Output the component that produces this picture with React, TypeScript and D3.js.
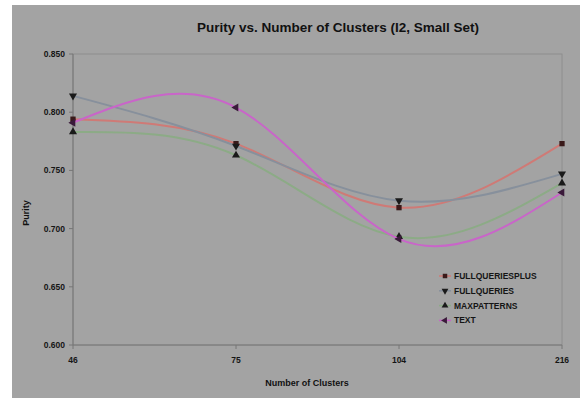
import React from "react";
import * as d3 from "d3";

const categories = ["46", "75", "104", "216"];
const seriesNames = ["FULLQUERIESPLUS", "FULLQUERIES", "MAXPATTERNS", "TEXT"];
const fullQueriesPlus = [0.794, 0.773, 0.718, 0.773];
const fullQueries = [0.814, 0.771, 0.724, 0.747];
const maxPatterns = [0.783, 0.763, 0.693, 0.739];
const textSeries = [0.791, 0.804, 0.691, 0.731];
const yTicks = [0.6, 0.65, 0.7, 0.75, 0.8, 0.85];

const W = 582;
const H = 398;
const left = 73, right = 562, top = 54, bottom = 345;

const styles = [
  { color: "#cf7a76", marker: d3.symbolSquare, rot: 0, mcolor: "#3a1a1a" },
  { color: "#87909c", marker: d3.symbolTriangle, rot: 180, mcolor: "#1a1a1a" },
  { color: "#8cab86", marker: d3.symbolTriangle, rot: 0, mcolor: "#1a1a1a" },
  { color: "#c965c9", marker: d3.symbolTriangle, rot: -90, mcolor: "#3a1a3a" },
];

export default function App() {
  const data = [fullQueriesPlus, fullQueries, maxPatterns, textSeries];
  const x = d3.scalePoint<string>().domain(categories).range([left, right]);
  const y = d3.scaleLinear().domain([0.6, 0.85]).range([bottom, top]);
  const line = d3
    .line<number>()
    .x((_, i) => x(categories[i]) as number)
    .y((v) => y(v))
    .curve(d3.curveNatural);
  const font = "'Liberation Sans', Arial, sans-serif";

  return (
    <svg
      width={W}
      height={H}
      style={{ position: "absolute", left: 0, top: 0 }}
      fontFamily={font}
    >
      <rect x={0} y={0} width={W} height={H} fill="#ffffff" />
      <rect x={12} y={5} width={568} height={H - 5} fill="#a3a3a3" />
      <rect x={left} y={top} width={right - left} height={bottom - top} fill="#a3a3a3" stroke="#8e8e8e" strokeWidth={1} />
      <text x={338} y={32} textAnchor="middle" fontSize={13.5} fontWeight="bold" fill="#111">
        Purity vs. Number of Clusters (I2, Small Set)
      </text>
      {/* y axis */}
      <line x1={left} x2={left} y1={top} y2={bottom} stroke="#777" />
      {yTicks.map((t) => (
        <g key={t}>
          <line x1={left - 4} x2={left} y1={y(t)} y2={y(t)} stroke="#777" />
          <text x={left - 8} y={y(t) + 3} textAnchor="end" fontSize={8.5} fontWeight="bold" fill="#151515">
            {t.toFixed(3)}
          </text>
        </g>
      ))}
      {/* x axis */}
      <line x1={left} x2={right} y1={bottom} y2={bottom} stroke="#777" />
      {categories.map((c) => (
        <g key={c}>
          <line x1={x(c)} x2={x(c)} y1={bottom} y2={bottom + 4} stroke="#777" />
          <text x={x(c)} y={bottom + 18} textAnchor="middle" fontSize={8.5} fontWeight="bold" fill="#151515">
            {c}
          </text>
        </g>
      ))}
      <text x={307} y={386} textAnchor="middle" fontSize={9} fontWeight="bold" fill="#111">
        Number of Clusters
      </text>
      <text
        transform={`translate(29,213) rotate(-90)`}
        textAnchor="middle"
        fontSize={9}
        fontWeight="bold"
        fill="#111"
      >
        Purity
      </text>
      {/* series */}
      {data.map((vals, si) => (
        <g key={seriesNames[si]}>
          <path d={line(vals) as string} fill="none" stroke={styles[si].color} strokeWidth={2} />
          {vals.map((v, i) => (
            <path
              key={i}
              d={d3.symbol().type(styles[si].marker).size(28)() as string}
              transform={`translate(${x(categories[i])},${y(v)}) rotate(${styles[si].rot})`}
              fill={styles[si].mcolor}
            />
          ))}
        </g>
      ))}
      {/* legend */}
      {seriesNames.map((n, si) => {
        const ly = 276 + si * 14.8;
        return (
          <g key={n}>
            <line x1={439} x2={451} y1={ly} y2={ly} stroke={styles[si].color} strokeWidth={1.5} />
            <path
              d={d3.symbol().type(styles[si].marker).size(20)() as string}
              transform={`translate(445,${ly}) rotate(${styles[si].rot})`}
              fill={styles[si].mcolor}
            />
            <text x={454} y={ly + 3} fontSize={8.5} fontWeight="bold" fill="#151515">
              {n}
            </text>
          </g>
        );
      })}
    </svg>
  );
}
